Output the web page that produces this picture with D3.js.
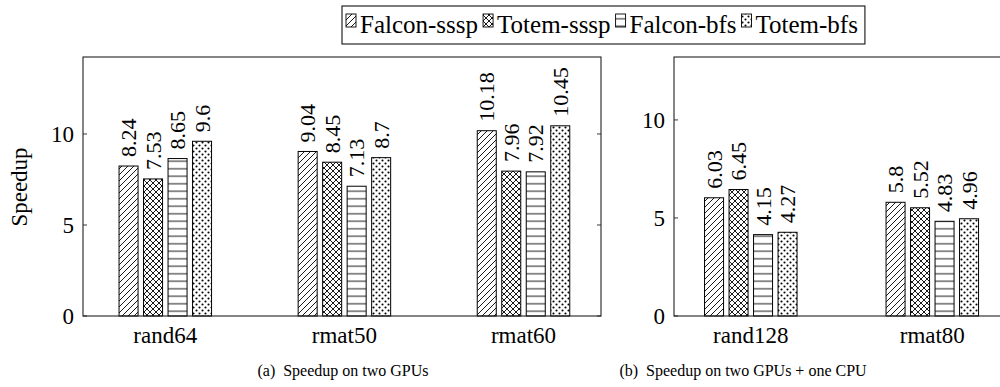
<!DOCTYPE html>
<html><head><meta charset="utf-8"><script src="https://cdn.jsdelivr.net/npm/d3@7"></script>
<style>
  svg text { font-family: "Liberation Serif" !important; }
</style>
</head>
<body style="margin:0">
<svg id="chart" width="1000" height="387" font-family="Liberation Serif"></svg>
<script>
// ---------------- data ----------------
const seriesNames = ["Falcon-sssp", "Totem-sssp", "Falcon-bfs", "Totem-bfs"];
const categoriesA = ["rand64", "rmat50", "rmat60"];
const categoriesB = ["rand128", "rmat80"];
const falconSsspA = [8.24, 9.04, 10.18];
const totemSsspA  = [7.53, 8.45, 7.96];
const falconBfsA  = [8.65, 7.13, 7.92];
const totemBfsA   = [9.6, 8.7, 10.45];
const falconSsspB = [6.03, 5.8];
const totemSsspB  = [6.45, 5.52];
const falconBfsB  = [4.15, 4.83];
const totemBfsB   = [4.27, 4.96];
const yTicks = [0, 5, 10];
const yLabel = "Speedup";
const captionA = "(a)\u2002Speedup on two GPUs";
const captionB = "(b)\u2002Speedup on two GPUs + one CPU";

const svg = d3.select("#chart");
const defs = svg.append("defs");

// ---------------- patterns ----------------
const patIds = ["pDiag", "pCross", "pHoriz", "pDots"];
(function makePatterns() {
  const sw = 0.9;
  let p = defs.append("pattern").attr("id", "pDiag").attr("patternUnits", "userSpaceOnUse")
    .attr("width", 6).attr("height", 6);
  p.append("rect").attr("width", 6).attr("height", 6).attr("fill", "#fff");
  p.append("path").attr("d", "M-1,7 L7,-1 M-1,1 L1,-1 M5,7 L7,5")
    .attr("stroke", "#000").attr("stroke-width", sw);

  p = defs.append("pattern").attr("id", "pCross").attr("patternUnits", "userSpaceOnUse")
    .attr("width", 6).attr("height", 6);
  p.append("rect").attr("width", 6).attr("height", 6).attr("fill", "#fff");
  p.append("path").attr("d", "M-1,7 L7,-1 M-1,1 L1,-1 M5,7 L7,5 M-1,-1 L7,7 M-1,5 L1,7 M5,-1 L7,1")
    .attr("stroke", "#000").attr("stroke-width", sw);

  p = defs.append("pattern").attr("id", "pHoriz").attr("patternUnits", "userSpaceOnUse")
    .attr("width", 7.5).attr("height", 7.5);
  p.append("rect").attr("width", 7.5).attr("height", 7.5).attr("fill", "#fff");
  p.append("path").attr("d", "M0,3.75 L7.5,3.75")
    .attr("stroke", "#000").attr("stroke-width", sw);

  p = defs.append("pattern").attr("id", "pDots").attr("patternUnits", "userSpaceOnUse")
    .attr("width", 6).attr("height", 6);
  p.append("rect").attr("width", 6).attr("height", 6).attr("fill", "#fff");
  p.append("circle").attr("cx", 1.5).attr("cy", 1.5).attr("r", 1.05).attr("fill", "#000");
  p.append("circle").attr("cx", 4.5).attr("cy", 4.5).attr("r", 1.05).attr("fill", "#000");
})();

function txt(sel, size) {
  return sel.attr("font-family", "Liberation Serif")
    .style("font-family", '"Liberation Serif"').style("font-size", size + "px");
}

// ---------------- panels ----------------
function drawPanel(cfg) {
  const { cats, values, x0, x1, yTop, yBottom, yMax, firstCenter, lastCenter } = cfg;
  const g = svg.append("g");
  const y = d3.scaleLinear().domain([0, yMax]).range([yBottom, yTop]);
  const x = d3.scalePoint().domain(cats).range([firstCenter, lastCenter]);
  const xs = d3.scaleBand().domain(seriesNames).range([-49, 49])
    .paddingInner(0.224).paddingOuter(0.112);

  seriesNames.forEach((s, si) => {
    const vals = values[si];
    g.selectAll(null).data(cats).enter().append("rect")
      .attr("x", (c) => x(c) + xs(s))
      .attr("y", (c, i) => y(vals[i]))
      .attr("width", xs.bandwidth())
      .attr("height", (c, i) => y(0) - y(vals[i]))
      .attr("fill", `url(#${patIds[si]})`)
      .attr("stroke", "#000").attr("stroke-width", 1);
    txt(g.selectAll(null).data(cats).enter().append("text"), 22)
      .attr("transform", (c, i) =>
        `translate(${x(c) + xs(s) + xs.bandwidth() / 2},${y(vals[i]) - 9}) rotate(-90)`)
      .attr("dy", "0.34em")
      .text((c, i) => String(vals[i]));
  });

  g.append("rect").attr("x", x0).attr("y", yTop).attr("width", x1 - x0).attr("height", yBottom - yTop)
    .attr("fill", "none").attr("stroke", "#222").attr("stroke-width", 1.1);

  yTicks.forEach((t) => {
    g.append("line").attr("x1", x0).attr("x2", x0 + 4).attr("y1", y(t)).attr("y2", y(t))
      .attr("stroke", "#222").attr("stroke-width", 0.9);
    g.append("line").attr("x1", x1).attr("x2", x1 - 4).attr("y1", y(t)).attr("y2", y(t))
      .attr("stroke", "#222").attr("stroke-width", 0.9);
    txt(g.append("text"), 23).attr("x", x0 - 9).attr("y", y(t)).attr("dy", "0.34em")
      .attr("text-anchor", "end").text(String(t));
  });

  txt(g.selectAll(null).data(cats).enter().append("text"), 23)
    .attr("x", (c) => x(c)).attr("y", 343)
    .attr("text-anchor", "middle").text((c) => c);
}

drawPanel({
  cats: categoriesA,
  values: [falconSsspA, totemSsspA, falconBfsA, totemBfsA],
  x0: 83, x1: 601, yTop: 57, yBottom: 316, yMax: 14.23,
  firstCenter: 165.3, lastCenter: 523.5
});
drawPanel({
  cats: categoriesB,
  values: [falconSsspB, totemSsspB, falconBfsB, totemBfsB],
  x0: 674, x1: 1009, yTop: 57, yBottom: 316, yMax: 13.21,
  firstCenter: 750.8, lastCenter: 932.3
});

txt(svg.append("text"), 23).attr("transform", "translate(19,187) rotate(-90)")
  .attr("text-anchor", "middle").attr("dy", "0.34em").text(yLabel);

txt(svg.append("text"), 16).attr("x", 343).attr("y", 376).attr("text-anchor", "middle").text(captionA);
txt(svg.append("text"), 16).attr("x", 743).attr("y", 376).attr("text-anchor", "middle").text(captionB);

// legend
const lg = svg.append("g");
const box = lg.append("rect").attr("x", 342).attr("y", 6).attr("height", 38)
  .attr("fill", "#fff").attr("stroke", "#111").attr("stroke-width", 1.1);
let cx = 346;
seriesNames.forEach((s, si) => {
  lg.append("rect").attr("x", cx).attr("y", 14).attr("width", 10).attr("height", 13)
    .attr("fill", `url(#${patIds[si]})`).attr("stroke", "#000").attr("stroke-width", 0.9);
  cx += 14;
  const t = txt(lg.append("text"), 25).attr("x", cx).attr("y", 33).text(s);
  cx += t.node().getComputedTextLength() + 5;
});
box.attr("width", cx - 342 + 2);
</script>
</body></html>
